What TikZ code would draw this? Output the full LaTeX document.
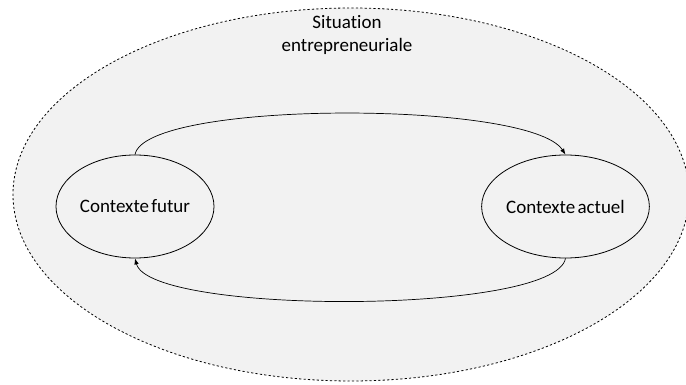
\documentclass[tikz,border=0pt]{standalone}
\usepackage{fontspec}
\setmainfont{Carlito}[Ligatures=NoCommon, WordSpace=0.5]
\usetikzlibrary{arrows.meta,shapes.geometric}
\definecolor{bgfill}{HTML}{F2F2F2}
\tikzset{
  ctx/.style={draw=black, line width=0.8pt, ellipse, minimum width=158pt, minimum height=103pt, inner sep=0pt, font=\fontsize{19}{22}\selectfont},
  flow/.style={draw=black, line width=0.7pt, -{Latex[length=6pt,width=4.5pt]}},
  outer/.style={draw=black, line width=0.8pt, dash pattern=on 2.2pt off 2.2pt, fill=bgfill}
}
\begin{document}
\begin{tikzpicture}[x=1pt,y=1pt]
\useasboundingbox (0,0) rectangle (686,-385);
\fill[white] (0,0) rectangle (686,-385);
\begin{scope}
\clip (0,0) rectangle (686,-385);
\draw[outer] (351,-194.5) ellipse [x radius=338, y radius=186.5];
\end{scope}
\node[font=\fontsize{19}{23}\selectfont, align=center, anchor=north] (title) at (347,-12) {Situation\\entrepreneuriale};
\node[ctx] (futur) at (135,-206.5) {Contexte futur};
\node[ctx] (actuel) at (565.5,-206.5) {Contexte actuel};
\draw[flow] (futur.north) .. controls (145,-100) and (530,-100) .. (actuel.north);
\draw[flow] (actuel.south) .. controls (555,-315) and (150,-315) .. (futur.south);
\end{tikzpicture}
\end{document}
